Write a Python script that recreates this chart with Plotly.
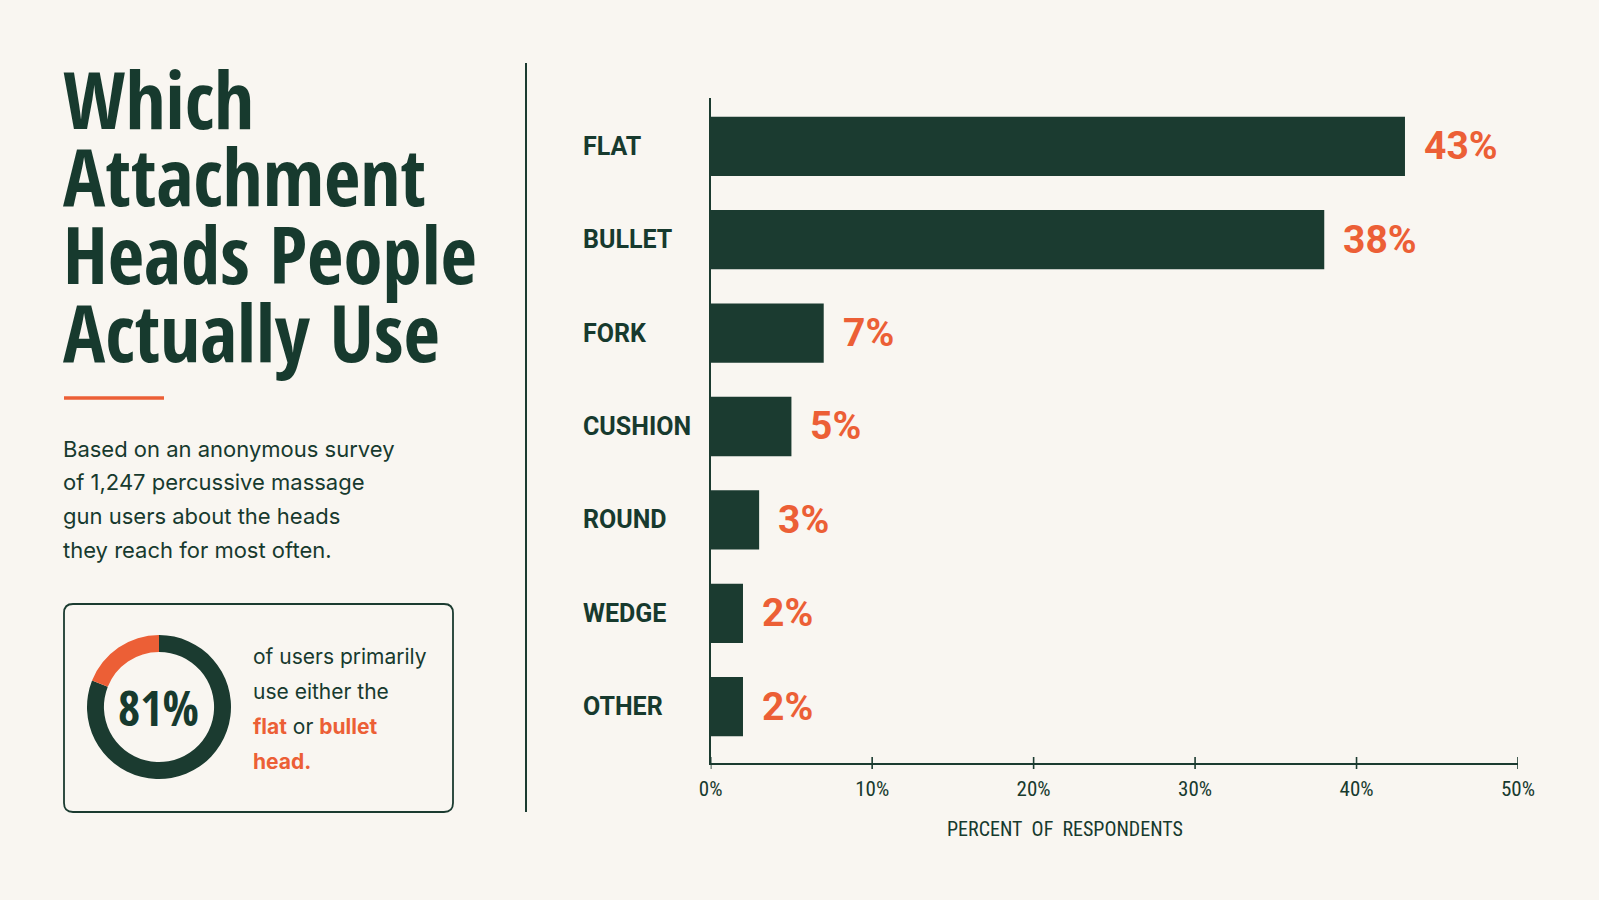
import plotly.graph_objects as go

# ---------------- data ----------------
categories = ["FLAT", "BULLET", "FORK", "CUSHION", "ROUND", "WEDGE", "OTHER"]
shares = [43, 38, 7, 5, 3, 2, 2]
value_labels = ["43%", "38%", "7%", "5%", "3%", "2%", "2%"]
tick_values = [0, 10, 20, 30, 40, 50]
tick_labels = ["0%", "10%", "20%", "30%", "40%", "50%"]
axis_title = "PERCENT OF RESPONDENTS"

title_lines = ["Which", "Attachment", "Heads People", "Actually Use"]
subtitle_lines = [
    "Based on an anonymous survey",
    "of 1,247 percussive massage",
    "gun users about the heads",
    "they reach for most often.",
]
callout_parts = [81, 19]          # flat or bullet / everything else
callout_value = "81%"

# ---------------- style ----------------
BG = "#f9f6f1"
DARK = "#1b3b30"
TEXT = "#173a2e"
ORANGE = "#ec5f36"
TITLE_FONT = "Open Sans Condensed, Roboto Condensed, Roboto, sans-serif"
COND = "Roboto Condensed, Roboto, sans-serif"
SANS = "Roboto, Arial, sans-serif"
BODY = "Inter, Roboto, sans-serif"

W, H = 1599, 900
def px(x):
    return x / W
def py(y):
    return 1 - y / H

callout_lines = [
    "of users primarily",
    "use either the",
    f"<b><span style='color:{ORANGE}'>flat</span></b> or <b><span style='color:{ORANGE}'>bullet</span></b>",
    f"<b><span style='color:{ORANGE}'>head.</span></b>",
]

X_DOM = [px(710.7), px(1518)]
Y_DOM = [py(763), py(98.3)]

fig = go.Figure()

fig.add_trace(go.Bar(
    y=categories, x=shares, orientation="h",
    marker=dict(color=DARK, line=dict(width=0)),
    hoverinfo="skip", showlegend=False,
))

fig.add_trace(go.Pie(
    values=callout_parts,
    marker=dict(colors=[DARK, ORANGE], line=dict(width=0)),
    hole=0.765, direction="clockwise", sort=False, rotation=0,
    textinfo="none", hoverinfo="skip", showlegend=False,
    domain=dict(x=[px(87), px(231)], y=[py(779), py(635)]),
))

annotations = []

# title
title_centers = [98, 175.5, 253.5, 331]
for line, yc in zip(title_lines, title_centers):
    annotations.append(dict(
        text=f"<b>{line}</b>", x=px(61), y=py(yc), xref="paper", yref="paper",
        xanchor="left", yanchor="middle", showarrow=False,
        font=dict(family=TITLE_FONT, size=79, color=TEXT),
    ))

# subtitle
sub_centers = [449, 482, 516, 550]
for line, yc in zip(subtitle_lines, sub_centers):
    annotations.append(dict(
        text=line, x=px(61), y=py(yc), xref="paper", yref="paper",
        xanchor="left", yanchor="middle", showarrow=False,
        font=dict(family=BODY, size=22, color=TEXT),
    ))

# callout text
call_centers = [656, 691, 726, 761]
for line, yc in zip(callout_lines, call_centers):
    annotations.append(dict(
        text=line, x=px(251), y=py(yc), xref="paper", yref="paper",
        xanchor="left", yanchor="middle", showarrow=False,
        font=dict(family=BODY, size=21, color=TEXT),
    ))

annotations.append(dict(
    text=f"<b>{callout_value}</b>", x=px(158), y=py(707), xref="paper", yref="paper",
    xanchor="center", yanchor="middle", showarrow=False,
    font=dict(family=TITLE_FONT, size=48, color=TEXT),
))

# category labels
for cat in categories:
    annotations.append(dict(
        text=f"<b>{cat}</b>", x=px(581), y=cat, xref="paper", yref="y",
        xanchor="left", yanchor="middle", showarrow=False,
        font=dict(family=SANS, size=25, color=TEXT),
    ))

# value labels
for cat, v, lab in zip(categories, shares, value_labels):
    annotations.append(dict(
        text=f"<b>{lab}</b>", x=v, y=cat, xref="x", yref="y",
        xanchor="left", yanchor="middle", xshift=17, showarrow=False,
        font=dict(family=SANS, size=39, color=ORANGE),
    ))

# axis title (slightly wider word spacing as in the reference)
annotations.append(dict(
    text=axis_title.replace(" ", "&nbsp; "), x=px(1065), y=py(828.5), xref="paper", yref="paper",
    xanchor="center", yanchor="middle", showarrow=False,
    font=dict(family=COND, size=20, color=TEXT),
))

shapes = []
# x ticks crossing the axis line
for v in tick_values:
    shapes.append(dict(type="line", xref="x", yref="paper", x0=v, x1=v,
                       y0=Y_DOM[0] - 6 / H, y1=Y_DOM[0] + 6 / H,
                       line=dict(color=DARK, width=1.6)))
# orange rule under title
shapes.append(dict(type="rect", xref="paper", yref="paper",
                   x0=px(64), x1=px(164), y0=py(399.7), y1=py(396.3),
                   fillcolor=ORANGE, line=dict(width=0)))
# vertical divider
shapes.append(dict(type="line", xref="paper", yref="paper",
                   x0=px(526), x1=px(526), y0=py(63), y1=py(812),
                   line=dict(color=DARK, width=2)))
# rounded callout box
bx0, bx1, by0, by1 = 64, 453, 604, 812
r = 9
rx, ry = r / W, r / H
x0, x1, yt, yb = px(bx0), px(bx1), py(by0), py(by1)
path = (f"M {x0 + rx},{yt} L {x1 - rx},{yt} Q {x1},{yt} {x1},{yt - ry} "
        f"L {x1},{yb + ry} Q {x1},{yb} {x1 - rx},{yb} "
        f"L {x0 + rx},{yb} Q {x0},{yb} {x0},{yb + ry} "
        f"L {x0},{yt - ry} Q {x0},{yt} {x0 + rx},{yt} Z")
shapes.append(dict(type="path", xref="paper", yref="paper", path=path,
                   line=dict(color=DARK, width=1.8), fillcolor="rgba(0,0,0,0)"))

fig.update_layout(
    width=W, height=H, margin=dict(l=0, r=0, t=0, b=0, autoexpand=False),
    paper_bgcolor=BG, plot_bgcolor=BG,
    bargap=0.365,
    xaxis=dict(domain=X_DOM, range=[0, 50], tickvals=tick_values, ticktext=tick_labels,
               ticks="", showline=True, linecolor=DARK, linewidth=2, automargin=False,
               showgrid=False, zeroline=False, fixedrange=True,
               tickfont=dict(family=COND, size=21, color=TEXT), ticklabelstandoff=6),
    yaxis=dict(domain=Y_DOM, type="category", categoryorder="array", categoryarray=categories,
               range=[6.603, -0.514], showline=True, linecolor=DARK, linewidth=2, automargin=False,
               showticklabels=False, showgrid=False, zeroline=False, ticks="", fixedrange=True),
    annotations=annotations, shapes=shapes,
)

fig.write_html("out.html")
